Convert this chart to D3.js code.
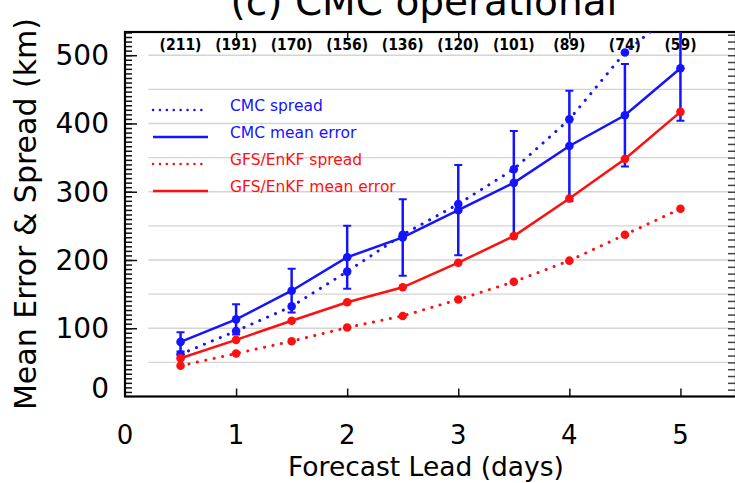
<!DOCTYPE html>
<html>
<head>
<meta charset="utf-8">
<script src="https://cdn.jsdelivr.net/npm/d3@7"></script>
<style>
  body { margin: 0; background: #fff; }
  svg { display: block; }
  text { font-family: "DejaVu Sans", sans-serif; }
</style>
</head>
<body>
<script>
// forecast leads (days) and values (km)
const leads = [0.5, 1, 1.5, 2, 2.5, 3, 3.5, 4, 4.5, 5];
const cmcSpread = [62, 96, 132, 183, 237, 282, 333, 406, 504, 570];
const cmcError = [80, 113, 155, 204, 233, 273, 313, 367, 412, 481];
const cmcErrorBar = [14, 22, 32, 46, 56, 66, 76, 81, 75, 77];
const gfsSpread = [45, 63, 81, 101, 118, 142, 168, 199, 237, 275];
const gfsError = [56, 83, 111, 138, 160, 196, 235, 290, 348, 417];
const counts = ["(211)", "(191)", "(170)", "(156)", "(136)", "(120)", "(101)", "(89)", "(74)", "(59)"];

const xTicks = [0, 1, 2, 3, 4, 5];
const yTicks = [0, 100, 200, 300, 400, 500];
const gridValues = [50, 100, 150, 200, 250, 300, 350, 400, 450, 500];

const legendItems = [
  {label: "CMC spread", color: "#1414ff", dotted: true},
  {label: "CMC mean error", color: "#1414ff", dotted: false},
  {label: "GFS/EnKF spread", color: "#ff1010", dotted: true},
  {label: "GFS/EnKF mean error", color: "#ff1010", dotted: false}
];

const width = 735;
const height = 483;
const margin = {top: 32, bottom: 86.5, left: 125, right: -1};

const blue = "#1414ff";
const red = "#ff1010";

const svg = d3.select("body").append("svg")
  .attr("width", width)
  .attr("height", height);

const x = d3.scaleLinear()
  .domain([0, 5.5])
  .range([margin.left, width - margin.right]);

const y = d3.scaleLinear()
  .domain([0, 534])
  .range([height - margin.bottom, margin.top]);

svg.append("clipPath").attr("id", "plot")
  .append("rect")
  .attr("x", margin.left)
  .attr("y", margin.top)
  .attr("width", x(5.5) - margin.left)
  .attr("height", y(0) - margin.top);

// light grid lines
svg.append("g")
  .selectAll("line")
  .data(gridValues)
  .join("line")
  .attr("x1", x(0.21))
  .attr("x2", x(5.44))
  .attr("y1", d => y(d))
  .attr("y2", d => y(d))
  .attr("stroke", "#d4d4d4")
  .attr("stroke-width", 1.4);

// axes (ticks only, frame drawn separately)
const bottomAxis = svg.append("g")
  .attr("transform", `translate(0,${y(0)})`)
  .call(d3.axisTop(x).tickValues(xTicks.slice(1)).tickSize(8).tickFormat(""));
const topAxis = svg.append("g")
  .attr("transform", `translate(0,${margin.top})`)
  .call(d3.axisBottom(x).tickValues(xTicks.slice(1)).tickSize(7).tickFormat(""));
const leftMinor = svg.append("g")
  .attr("transform", `translate(${margin.left},0)`)
  .call(d3.axisRight(y).tickValues(d3.range(100 / 15, 534, 100 / 15)).tickSize(7).tickFormat(""));
const leftMajor = svg.append("g")
  .attr("transform", `translate(${margin.left},0)`)
  .call(d3.axisRight(y).tickValues(yTicks.slice(1)).tickSize(12).tickFormat(""));
const rightAxis = svg.append("g")
  .attr("transform", `translate(${x(5.5)},0)`)
  .call(d3.axisLeft(y).tickValues(d3.range(10, 534, 10)).tickSize(8).tickFormat(""));

[bottomAxis, topAxis, leftMinor, leftMajor, rightAxis].forEach(g => {
  g.select(".domain").remove();
  g.selectAll("line").attr("stroke", "#111").attr("stroke-width", 1.5);
});
rightAxis.selectAll("line").attr("stroke", "#444");

// frame
svg.append("rect")
  .attr("x", margin.left)
  .attr("y", margin.top)
  .attr("width", x(5.5) - margin.left)
  .attr("height", y(0) - margin.top)
  .attr("fill", "none")
  .attr("stroke", "#000")
  .attr("stroke-width", 2.2);

// tick labels
svg.append("g")
  .selectAll("text")
  .data(xTicks)
  .join("text")
  .attr("x", d => x(d))
  .attr("y", 444)
  .attr("text-anchor", "middle")
  .style("font-size", "26px")
  .text(d => d);

svg.append("g")
  .selectAll("text")
  .data(yTicks)
  .join("text")
  .attr("x", 109)
  .attr("y", d => y(d) + 10 - (d === 0 ? 9 : 0))
  .attr("text-anchor", "end")
  .style("font-size", "28px")
  .text(d => d);

// axis titles
svg.append("text")
  .attr("x", 426)
  .attr("y", 476)
  .attr("text-anchor", "middle")
  .style("font-size", "26.5px")
  .text("Forecast Lead (days)");

svg.append("text")
  .attr("transform", "translate(36,214) rotate(-90)")
  .attr("text-anchor", "middle")
  .style("font-size", "30px")
  .text("Mean Error & Spread (km)");

svg.append("text")
  .attr("x", 424)
  .attr("y", 15)
  .attr("text-anchor", "middle")
  .style("font-size", "39px")
  .text("(c) CMC operational");

// sample counts
svg.append("g")
  .selectAll("text")
  .data(counts)
  .join("text")
  .attr("x", (d, i) => x(leads[i]))
  .attr("y", 50)
  .attr("text-anchor", "middle")
  .style("font-family", "'DejaVu Sans Condensed', 'DejaVu Sans', sans-serif")
  .style("font-size", "15.5px")
  .style("font-weight", "bold")
  .text(d => d);

// series
const plot = svg.append("g").attr("clip-path", "url(#plot)");
const line = d3.line()
  .x((d, i) => x(leads[i]))
  .y(d => y(d));

function drawSeries(values, color, dotted) {
  plot.append("path")
    .datum(values)
    .attr("d", line)
    .attr("fill", "none")
    .attr("stroke", color)
    .attr("stroke-width", dotted ? 3 : 2.5)
    .attr("stroke-dasharray", dotted ? "0.1,8.5" : null)
    .attr("stroke-linecap", dotted ? "round" : "butt");
  plot.append("g")
    .selectAll("circle")
    .data(values)
    .join("circle")
    .attr("cx", (d, i) => x(leads[i]))
    .attr("cy", d => y(d))
    .attr("r", 4.3)
    .attr("fill", color);
}

// CMC error bars
const bars = plot.append("g")
  .attr("stroke", blue)
  .attr("stroke-width", 2.5);
cmcError.forEach((v, i) => {
  const e = cmcErrorBar[i];
  const cx = x(leads[i]);
  bars.append("line")
    .attr("x1", cx).attr("x2", cx)
    .attr("y1", y(v - e)).attr("y2", y(v + e));
  [v - e, v + e].forEach(end => {
    bars.append("line")
      .attr("x1", cx - 4).attr("x2", cx + 4)
      .attr("y1", y(end)).attr("y2", y(end))
      .attr("stroke-width", 2);
  });
});

drawSeries(cmcSpread, blue, true);
drawSeries(cmcError, blue, false);
drawSeries(gfsSpread, red, true);
drawSeries(gfsError, red, false);

// legend
const legend = svg.append("g");
legendItems.forEach((item, i) => {
  const ly = 111 + i * 27;
  legend.append("line")
    .attr("x1", 153).attr("x2", 208)
    .attr("y1", ly - 1).attr("y2", ly - 1)
    .attr("stroke", item.color)
    .attr("stroke-width", 2.5)
    .attr("stroke-dasharray", item.dotted ? "0.1,6.8" : null)
    .attr("stroke-linecap", item.dotted ? "round" : "butt");
  legend.append("text")
    .attr("x", 230)
    .attr("y", ly)
    .attr("fill", item.color)
    .style("font-size", "15.5px")
    .text(item.label);
});
</script>
</body>
</html>
